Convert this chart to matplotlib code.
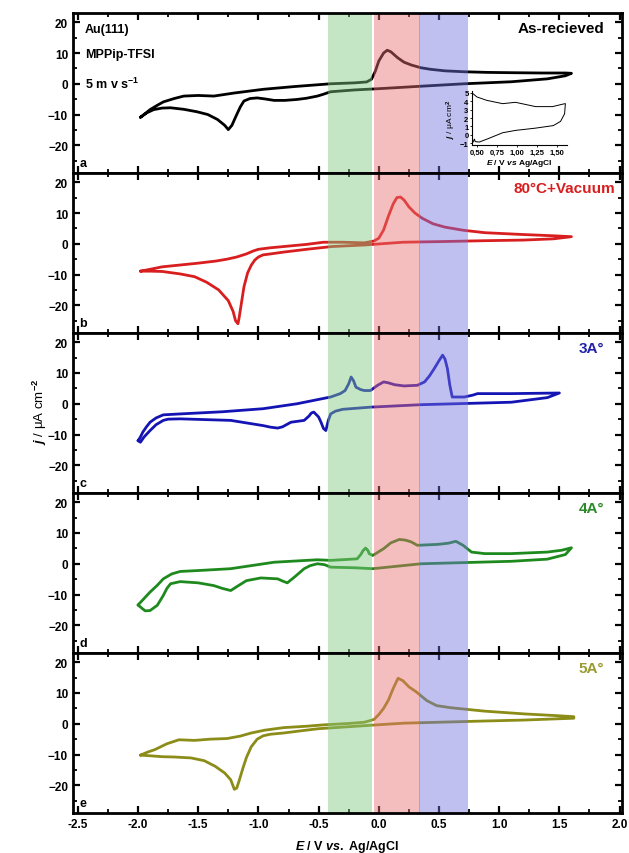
import matplotlib
matplotlib.use("Agg")
import matplotlib.pyplot as plt
from matplotlib.ticker import MultipleLocator

plt.rcParams['font.family'] = ['Liberation Sans', 'DejaVu Sans']
plt.rcParams['mathtext.fontset'] = 'custom'
plt.rcParams['mathtext.rm'] = 'Liberation Sans:bold'
plt.rcParams['mathtext.it'] = 'Liberation Sans:italic:bold'
plt.rcParams['mathtext.bf'] = 'Liberation Sans:bold'

# ---------------- data ----------------
# panel a : as-received
a_fwd_E = [-1.98, -1.94, -1.90, -1.84, -1.79, -1.70, -1.62, -1.50, -1.37, -1.20, -0.96, -0.70, -0.40, -0.20, -0.10, -0.06, -0.03, 0.00, 0.04, 0.07, 0.10, 0.155, 0.21, 0.27, 0.35, 0.43, 0.55, 0.71, 0.90, 1.10, 1.35, 1.55, 1.60]
a_fwd_j = [-10.9, -9.7, -8.4, -7.0, -5.9, -4.8, -4.0, -3.8, -4.0, -3.0, -1.8, -0.9, 0.0, 0.3, 0.6, 1.5, 4.0, 7.4, 10.0, 10.9, 10.4, 8.5, 7.0, 6.1, 5.2, 4.7, 4.2, 3.9, 3.7, 3.6, 3.5, 3.5, 3.4]
a_rev_E = [1.60, 1.55, 1.40, 1.10, 0.71, 0.35, 0.00, -0.20, -0.40, -0.46, -0.51, -0.60, -0.68, -0.78, -0.87, -0.95, -1.01, -1.07, -1.12, -1.15, -1.18, -1.22, -1.25, -1.28, -1.34, -1.42, -1.51, -1.62, -1.73, -1.80, -1.87, -1.93, -1.98]
a_rev_j = [3.4, 2.6, 1.6, 0.65, 0.0, -0.8, -1.6, -2.0, -2.6, -3.4, -4.0, -4.7, -5.1, -5.4, -5.4, -4.9, -4.6, -4.8, -5.6, -7.5, -10.0, -13.5, -14.9, -13.5, -11.6, -10.0, -9.1, -8.3, -7.8, -7.9, -8.4, -9.5, -10.9]

# panel b : 80 C + vacuum
b_fwd_E = [-1.98, -1.90, -1.80, -1.65, -1.50, -1.35, -1.26, -1.18, -1.10, -1.04, -1.00, -0.90, -0.79, -0.60, -0.46, -0.30, -0.12, -0.04, 0.00, 0.04, 0.08, 0.12, 0.15, 0.18, 0.21, 0.25, 0.30, 0.36, 0.45, 0.55, 0.70, 0.88, 1.20, 1.45, 1.60]
b_fwd_j = [-8.9, -8.3, -7.5, -6.9, -6.3, -5.6, -5.0, -4.3, -3.3, -2.3, -1.8, -1.3, -0.9, -0.2, 0.5, 0.5, 0.3, 0.9, 1.8, 4.5, 9.0, 13.0, 15.0, 15.2, 14.2, 12.0, 10.0, 8.3, 6.5, 5.4, 4.4, 3.6, 3.0, 2.6, 2.3]
b_rev_E = [1.60, 1.45, 1.20, 0.88, 0.50, 0.20, -0.12, -0.39, -0.60, -0.79, -0.90, -0.96, -1.00, -1.03, -1.06, -1.09, -1.12, -1.14, -1.16, -1.17, -1.19, -1.21, -1.25, -1.33, -1.43, -1.53, -1.65, -1.80, -1.90, -1.98]
b_rev_j = [2.3, 1.6, 1.2, 1.0, 0.7, 0.5, -0.4, -0.9, -1.8, -2.7, -3.3, -3.6, -4.3, -5.3, -7.0, -9.5, -14.0, -19.0, -24.0, -26.0, -25.0, -22.0, -18.5, -15.0, -12.5, -10.7, -9.8, -9.0, -8.9, -8.9]

# panel c : 3A
c_fwd_E = [-2.00, -1.98, -1.96, -1.93, -1.90, -1.85, -1.79, -1.65, -1.30, -0.96, -0.68, -0.40, -0.32, -0.28, -0.25, -0.23, -0.21, -0.19, -0.15, -0.12, -0.07, -0.01, 0.04, 0.08, 0.13, 0.21, 0.32, 0.38, 0.42, 0.46, 0.50, 0.53, 0.55, 0.57, 0.59, 0.61, 0.71, 0.78, 0.82, 1.10, 1.50]
c_fwd_j = [-12.0, -10.8, -9.2, -7.5, -6.0, -4.6, -3.6, -3.3, -2.6, -1.6, 0.0, 2.2, 3.3, 4.3, 6.5, 8.7, 7.5, 5.4, 4.6, 4.3, 4.3, 6.0, 7.1, 6.8, 6.2, 5.8, 6.0, 7.1, 9.0, 11.4, 14.0, 15.8, 14.5, 11.4, 6.0, 2.2, 2.2, 2.8, 3.3, 3.3, 3.5]
c_rev_E = [1.50, 1.40, 1.10, 0.35, -0.07, -0.30, -0.36, -0.40, -0.42, -0.44, -0.46, -0.48, -0.50, -0.52, -0.54, -0.56, -0.58, -0.62, -0.73, -0.80, -0.84, -0.90, -0.96, -1.23, -1.65, -1.75, -1.79, -1.85, -1.90, -1.95, -1.98, -2.00]
c_rev_j = [3.5, 2.0, 0.5, -0.3, -1.1, -1.8, -2.4, -3.3, -5.5, -8.7, -8.0, -6.0, -4.3, -3.5, -2.7, -3.0, -4.0, -5.4, -6.0, -7.5, -7.9, -7.6, -7.1, -5.4, -4.9, -5.0, -5.4, -6.8, -8.7, -10.8, -12.5, -12.0]

# panel d : 4A
d_fwd_E = [-2.00, -1.95, -1.90, -1.84, -1.79, -1.72, -1.65, -1.50, -1.23, -0.87, -0.51, -0.40, -0.18, -0.15, -0.13, -0.11, -0.09, -0.08, -0.05, 0.04, 0.10, 0.17, 0.22, 0.27, 0.32, 0.49, 0.58, 0.64, 0.70, 0.77, 0.88, 1.10, 1.40, 1.52, 1.60]
d_fwd_j = [-13.4, -11.3, -9.2, -7.0, -4.9, -3.3, -2.5, -2.2, -1.6, 0.5, 1.3, 1.1, 1.6, 3.0, 4.3, 5.1, 4.3, 3.3, 2.7, 4.9, 6.8, 7.9, 7.7, 7.1, 6.0, 6.3, 6.7, 7.3, 6.0, 3.8, 3.3, 3.3, 3.8, 4.4, 5.2]
d_rev_E = [1.60, 1.55, 1.40, 1.10, 0.35, -0.05, -0.20, -0.40, -0.45, -0.51, -0.57, -0.62, -0.70, -0.76, -0.80, -0.84, -0.98, -1.10, -1.17, -1.23, -1.30, -1.37, -1.50, -1.65, -1.73, -1.76, -1.79, -1.84, -1.90, -1.94, -1.96, -2.00]
d_rev_j = [5.2, 3.0, 1.5, 0.8, 0.0, -1.6, -1.3, -1.1, -0.3, 0.0, -0.6, -1.6, -4.3, -6.2, -5.6, -4.9, -4.6, -5.5, -7.2, -8.7, -8.0, -7.1, -6.2, -5.8, -6.5, -8.0, -10.3, -13.5, -15.2, -15.3, -14.7, -13.4]

# panel e : 5A
e_fwd_E = [-1.98, -1.92, -1.86, -1.76, -1.66, -1.53, -1.40, -1.26, -1.15, -1.06, -0.95, -0.79, -0.60, -0.46, -0.25, -0.12, -0.04, 0.00, 0.04, 0.08, 0.12, 0.16, 0.20, 0.25, 0.31, 0.40, 0.48, 0.60, 0.88, 1.21, 1.45, 1.62]
e_fwd_j = [-10.2, -9.2, -8.4, -6.5, -5.2, -5.4, -5.0, -4.8, -4.0, -3.0, -2.1, -1.25, -0.8, -0.36, 0.1, 0.5, 1.4, 3.0, 5.0, 7.7, 11.5, 14.8, 14.0, 12.0, 10.4, 7.5, 5.9, 5.2, 4.1, 3.2, 2.7, 2.3]
e_rev_E = [1.62, 1.20, 0.88, 0.50, 0.21, -0.02, -0.36, -0.50, -0.65, -0.79, -0.90, -0.96, -1.01, -1.06, -1.10, -1.13, -1.16, -1.18, -1.20, -1.23, -1.28, -1.36, -1.45, -1.56, -1.70, -1.80, -1.90, -1.98]
e_rev_j = [1.8, 1.2, 0.9, 0.5, 0.2, -0.36, -1.25, -1.6, -2.3, -3.0, -3.4, -3.9, -5.0, -7.5, -11.0, -14.6, -18.5, -20.9, -21.3, -18.2, -16.0, -13.8, -12.0, -11.1, -10.8, -10.7, -10.4, -10.2]

# inset (panel a)
ins_fwd_E = [0.45, 0.50, 0.62, 0.82, 0.98, 1.23, 1.44, 1.58, 1.60]
ins_fwd_j = [4.9, 4.5, 4.1, 3.7, 3.86, 3.35, 3.35, 3.67, 3.7]
ins_rev_E = [1.60, 1.59, 1.54, 1.45, 1.23, 0.98, 0.82, 0.64, 0.53, 0.48, 0.47, 0.45]
ins_rev_j = [3.7, 2.5, 1.6, 1.1, 0.8, 0.53, 0.25, -0.45, -0.85, -0.8, -0.5, -0.9]

panel_letters = ['a', 'b', 'c', 'd', 'e']
panel_titles = ['As-recieved', '80°C+Vacuum', '3A°', '4A°', '5A°']
line_colors = ['#000000', '#d81e1e', '#1414b4', '#1e8a1e', '#8c8c18']
title_colors = ['#000000', '#d81e1e', '#2222a6', '#2a8a2a', '#9a9a30']
y_ticks = [-20, -10, 0, 10, 20]
x_ticks = [-2.5, -2.0, -1.5, -1.0, -0.5, 0.0, 0.5, 1.0, 1.5, 2.0]
bands = [(-0.42, -0.055, '#7fc97f'), (-0.04, 0.345, '#eb6f6f'), (0.33, 0.74, '#7373de')]

fwd = [(a_fwd_E, a_fwd_j), (b_fwd_E, b_fwd_j), (c_fwd_E, c_fwd_j), (d_fwd_E, d_fwd_j), (e_fwd_E, e_fwd_j)]
rev = [(a_rev_E, a_rev_j), (b_rev_E, b_rev_j), (c_rev_E, c_rev_j), (d_rev_E, d_rev_j), (e_rev_E, e_rev_j)]

# ---------------- figure ----------------
W, H = 629, 854
fig = plt.figure(figsize=(W / 100, H / 100), dpi=100)
left, right = 73 / W, 622 / W
top_px, bot_px = 14, 814
ph = (bot_px - top_px) / 5

axes = []
for i in range(5):
    y0 = 1 - (top_px + (i + 1) * ph) / H
    ax = fig.add_axes([left, y0, right - left, ph / H])
    axes.append(ax)
    E1, j1 = fwd[i]
    E2, j2 = rev[i]
    ax.plot(E1 + E2, j1 + j2, color=line_colors[i], lw=2.0, zorder=2,
            solid_joinstyle='round', solid_capstyle='round')
    for (x0, x1, c) in bands:
        ax.axvspan(x0, x1, color=c, alpha=0.45, lw=0, zorder=3)
    ax.set_xlim(-2.54, 2.02)
    ax.set_ylim(-29, 23)
    ax.set_yticks(y_ticks)
    ax.yaxis.set_minor_locator(MultipleLocator(5))
    ax.set_xticks(x_ticks)
    ax.xaxis.set_minor_locator(MultipleLocator(0.25))
    ax.tick_params(which='both', direction='in', top=True, right=True, labelsize=8.5)
    ax.tick_params(which='major', length=5, width=1.6)
    ax.tick_params(which='minor', length=3, width=1.3)
    for lab in ax.get_yticklabels():
        lab.set_fontweight('bold')
    if i < 4:
        ax.tick_params(labelbottom=False)
    else:
        ax.set_xticklabels(['%.1f' % v for v in x_ticks], fontweight='bold')
        ax.set_xlabel(r'$E$ / V $vs.$ Ag/AgCl', fontsize=9, fontweight='bold', labelpad=6)
    for s in ax.spines.values():
        s.set_linewidth(2.0)
        s.set_zorder(5)
    ax.text(0.012, 0.06, panel_letters[i], transform=ax.transAxes, fontsize=9,
            fontweight='bold', va='center', ha='left')
    xr = 0.988 if i == 1 else 0.968
    ax.text(xr, 0.905, panel_titles[i], transform=ax.transAxes, fontsize=11,
            fontweight='bold', color=title_colors[i], ha='right', va='center')

axa = axes[0]
axa.text(0.022, 0.90, 'Au(111)', transform=axa.transAxes, fontsize=9, fontweight='bold', va='center')
axa.text(0.022, 0.745, 'MPPip-TFSI', transform=axa.transAxes, fontsize=9, fontweight='bold', va='center')
axa.text(0.022, 0.56, r'5 m v s$^{-1}$', transform=axa.transAxes, fontsize=9, fontweight='bold', va='center')

fig.text(40 / W, 1 - 412 / H, r'$j$ / μA cm$^{-2}$', rotation=90, fontsize=9.5,
         ha='center', va='center')

# inset
ins = fig.add_axes([472 / W, 1 - 146 / H, 95 / W, 54 / H])
ins.plot(ins_fwd_E + ins_rev_E, ins_fwd_j + ins_rev_j, color='black', lw=0.7)
ins.set_xlim(0.44, 1.62)
ins.set_ylim(-1.2, 5.2)
ins.set_yticks([-1, 0, 1, 2, 3, 4, 5])
ins.set_xticks([0.5, 0.75, 1.0, 1.25, 1.5])
ins.set_xticklabels(['0,50', '0,75', '1,00', '1,25', '1,50'])
ins.tick_params(labelsize=5.5, length=1.5, width=0.6, pad=1)
for lab in ins.get_xticklabels() + ins.get_yticklabels():
    lab.set_fontweight('bold')
ins.spines['top'].set_visible(False)
ins.spines['right'].set_visible(False)
ins.spines['left'].set_linewidth(0.8)
ins.spines['bottom'].set_linewidth(0.8)
ins.patch.set_alpha(0)
ins.set_xlabel(r'$E$ / V $vs$ Ag/AgCl', fontsize=6, fontweight='bold', labelpad=1)
ins.set_ylabel(r'$j$ / μA cm$^2$', fontsize=6, labelpad=1)

fig.savefig('out.png', dpi=100)
